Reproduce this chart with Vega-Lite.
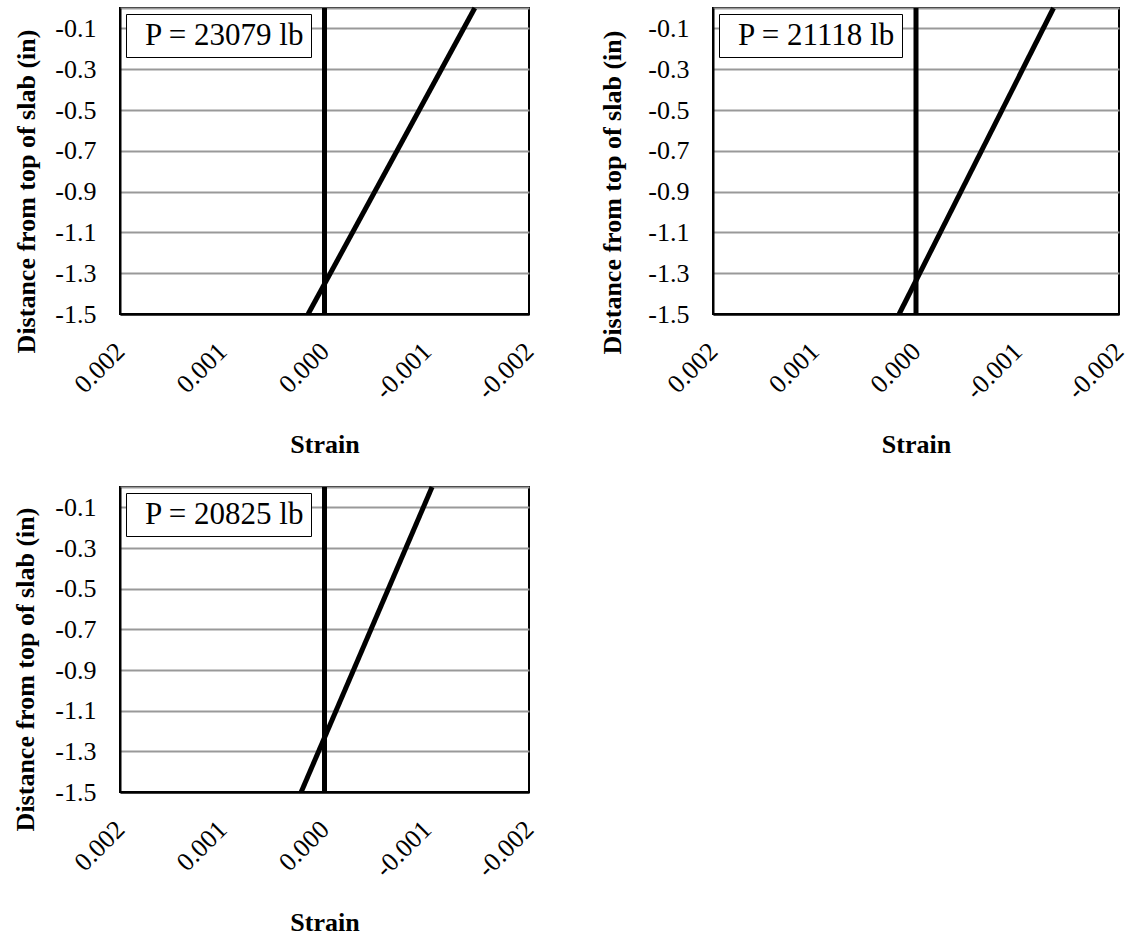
{
  "$schema": "https://vega.github.io/schema/vega-lite/v6.json",
  "padding": {"left": 11, "top": -3, "right": 0, "bottom": 0},
  "background": "white",
  "data": {
    "values": [
      {"panel": 1, "series": "profile", "load": "P = 23079 lb", "strain": 0.00016, "depth": -1.5},
      {"panel": 1, "series": "profile", "load": "P = 23079 lb", "strain": -0.00147, "depth": 0},
      {"panel": 1, "series": "zero", "load": "P = 23079 lb", "strain": 0, "depth": -1.5},
      {"panel": 1, "series": "zero", "load": "P = 23079 lb", "strain": 0, "depth": 0},
      {"panel": 2, "series": "profile", "load": "P = 21118 lb", "strain": 0.000166, "depth": -1.5},
      {"panel": 2, "series": "profile", "load": "P = 21118 lb", "strain": -0.001355, "depth": 0},
      {"panel": 2, "series": "zero", "load": "P = 21118 lb", "strain": 0, "depth": -1.5},
      {"panel": 2, "series": "zero", "load": "P = 21118 lb", "strain": 0, "depth": 0},
      {"panel": 3, "series": "profile", "load": "P = 20825 lb", "strain": 0.000228, "depth": -1.5},
      {"panel": 3, "series": "profile", "load": "P = 20825 lb", "strain": -0.001052, "depth": 0},
      {"panel": 3, "series": "zero", "load": "P = 20825 lb", "strain": 0, "depth": -1.5},
      {"panel": 3, "series": "zero", "load": "P = 20825 lb", "strain": 0, "depth": 0}
    ]
  },
  "columns": 2,
  "align": "none",
  "spacing": {"row": 17, "column": 58},
  "concat": [
    {
      "width": 409,
      "height": 306,
      "transform": [{"filter": "datum.panel == 1"}],
      "encoding": {
        "x": {"field": "strain", "type": "quantitative", "title": "Strain",
              "scale": {"domain": [-0.002, 0.002], "reverse": true, "nice": false, "zero": false},
              "axis": {"values": [0.002, 0.001, 0, -0.001, -0.002], "format": ".3f", "labelExpr": "replace(datum.label, '\u2212', '-')", "labelAngle": -45, "labelAlign": "right", "labelBaseline": "middle", "labelPadding": 33, "titlePadding": 28, "grid": false}},
        "y": {"field": "depth", "type": "quantitative", "title": "Distance from top of slab (in)",
              "scale": {"domain": [-1.5, 0], "nice": false, "zero": false},
              "axis": {"values": [-1.5, -1.3, -1.1, -0.9, -0.7, -0.5, -0.3, -0.1], "format": ".1f", "labelExpr": "replace(datum.label, '\u2212', '-')", "labelPadding": 24, "titlePadding": 15, "titleY": 183}},
        "order": {"field": "depth", "type": "quantitative"}
      },
      "layer": [
        {"transform": [{"filter": "datum.series == 'zero'"}], "mark": {"type": "line", "color": "black", "strokeWidth": 5},
         "encoding": {"x": {"field": "strain", "type": "quantitative",
           "scale": {"domain": [-0.002, 0.002], "reverse": true, "nice": false, "zero": false},
           "axis": {"orient": "top", "labels": false, "title": null, "ticks": false, "grid": false, "domainColor": "#999999", "domainWidth": 2}}}},
        {"transform": [{"filter": "datum.series == 'profile'"}], "mark": {"type": "line", "strokeWidth": 5},
         "encoding": {"color": {"field": "load", "type": "nominal", "scale": {"range": ["black"]}}}}
      ],
      "resolve": {"axis": {"x": "independent"}}
    },
    {
      "width": 406,
      "height": 306,
      "transform": [{"filter": "datum.panel == 2"}],
      "encoding": {
        "x": {"field": "strain", "type": "quantitative", "title": "Strain",
              "scale": {"domain": [-0.002, 0.002], "reverse": true, "nice": false, "zero": false},
              "axis": {"values": [0.002, 0.001, 0, -0.001, -0.002], "format": ".3f", "labelExpr": "replace(datum.label, '\u2212', '-')", "labelAngle": -45, "labelAlign": "right", "labelBaseline": "middle", "labelPadding": 33, "titlePadding": 28, "grid": false}},
        "y": {"field": "depth", "type": "quantitative", "title": "Distance from top of slab (in)",
              "scale": {"domain": [-1.5, 0], "nice": false, "zero": false},
              "axis": {"values": [-1.5, -1.3, -1.1, -0.9, -0.7, -0.5, -0.3, -0.1], "format": ".1f", "labelExpr": "replace(datum.label, '\u2212', '-')", "labelPadding": 24, "titlePadding": 22, "titleY": 184}},
        "order": {"field": "depth", "type": "quantitative"}
      },
      "layer": [
        {"transform": [{"filter": "datum.series == 'zero'"}], "mark": {"type": "line", "color": "black", "strokeWidth": 5},
         "encoding": {"x": {"field": "strain", "type": "quantitative",
           "scale": {"domain": [-0.002, 0.002], "reverse": true, "nice": false, "zero": false},
           "axis": {"orient": "top", "labels": false, "title": null, "ticks": false, "grid": false, "domainColor": "#999999", "domainWidth": 2}}}},
        {"transform": [{"filter": "datum.series == 'profile'"}], "mark": {"type": "line", "strokeWidth": 5},
         "encoding": {"color": {"field": "load", "type": "nominal", "scale": {"range": ["black"]}}}}
      ],
      "resolve": {"axis": {"x": "independent"}}
    },
    {
      "width": 409,
      "height": 305,
      "transform": [{"filter": "datum.panel == 3"}],
      "encoding": {
        "x": {"field": "strain", "type": "quantitative", "title": "Strain",
              "scale": {"domain": [-0.002, 0.002], "reverse": true, "nice": false, "zero": false},
              "axis": {"values": [0.002, 0.001, 0, -0.001, -0.002], "format": ".3f", "labelExpr": "replace(datum.label, '\u2212', '-')", "labelAngle": -45, "labelAlign": "right", "labelBaseline": "middle", "labelPadding": 33, "titlePadding": 28, "grid": false}},
        "y": {"field": "depth", "type": "quantitative", "title": "Distance from top of slab (in)",
              "scale": {"domain": [-1.5, 0], "nice": false, "zero": false},
              "axis": {"values": [-1.5, -1.3, -1.1, -0.9, -0.7, -0.5, -0.3, -0.1], "format": ".1f", "labelExpr": "replace(datum.label, '\u2212', '-')", "labelPadding": 24, "titlePadding": 16, "titleY": 182}},
        "order": {"field": "depth", "type": "quantitative"}
      },
      "layer": [
        {"transform": [{"filter": "datum.series == 'zero'"}], "mark": {"type": "line", "color": "black", "strokeWidth": 5},
         "encoding": {"x": {"field": "strain", "type": "quantitative",
           "scale": {"domain": [-0.002, 0.002], "reverse": true, "nice": false, "zero": false},
           "axis": {"orient": "top", "labels": false, "title": null, "ticks": false, "grid": false, "domainColor": "#999999", "domainWidth": 2}}}},
        {"transform": [{"filter": "datum.series == 'profile'"}], "mark": {"type": "line", "strokeWidth": 5},
         "encoding": {"color": {"field": "load", "type": "nominal", "scale": {"range": ["black"]}}}}
      ],
      "resolve": {"axis": {"x": "independent"}}
    }
  ],
  "resolve": {"scale": {"color": "independent"}, "legend": {"color": "independent"}},
  "config": {
    "font": "Liberation Serif",
    "style": {"guide-label": {"font": "Liberation Serif"}, "guide-title": {"font": "Liberation Serif"}},
    "view": {"stroke": "black", "strokeWidth": 2},
    "axis": {
      "labelFont": "Liberation Serif", "titleFont": "Liberation Serif",
      "labelFontSize": 26, "titleFontSize": 26, "titleFontWeight": "bold",
      "labelColor": "black", "titleColor": "black",
      "ticks": false, "domainColor": "black", "domainWidth": 2,
      "gridColor": {"condition": {"test": "datum.value == -1.5", "value": "black"}, "value": "#999999"},
      "gridWidth": 2, "gridOpacity": 1,
      "labelOverlap": false, "labelBound": false, "labelFlush": false
    },
    "legend": {
      "orient": "top-left", "offset": 6, "title": null,
      "strokeColor": "black", "fillColor": "white", "padding": 6,
      "labelFont": "Liberation Serif", "labelFontSize": 31, "labelColor": "black", "labelLimit": 400,
      "symbolType": "circle", "symbolOpacity": 0, "symbolSize": 1, "symbolStrokeWidth": 0, "labelOffset": -18
    }
  }
}
